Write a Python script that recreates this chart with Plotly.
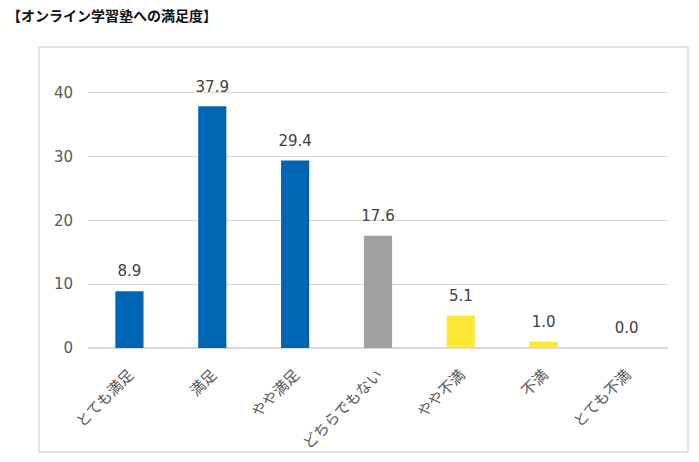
import plotly.graph_objects as go

categories = ["とても満足", "満足", "やや満足", "どちらでもない", "やや不満", "不満", "とても不満"]
values = [8.9, 37.9, 29.4, 17.6, 5.1, 1.0, 0.0]
colors = ["#0066B3", "#0066B3", "#0066B3", "#A0A0A0", "#FFE835", "#FFE835", "#FFE835"]
y_ticks = [0, 10, 20, 30, 40]
title_text = "【オンライン学習塾への満足度】"

FONT = "DejaVu Sans, Noto Sans CJK JP, sans-serif"

fig = go.Figure()
fig.add_trace(go.Bar(
    x=categories, y=values, marker=dict(color=colors, line=dict(width=0)),
    hoverinfo="skip", showlegend=False,
))
fig.add_trace(go.Scatter(
    x=categories, y=values, mode="markers+text",
    text=[f"{v:.1f}" for v in values], textposition="top center",
    textfont=dict(family=FONT, size=15, color="#404040"),
    marker=dict(size=16, opacity=0), hoverinfo="skip", showlegend=False,
    cliponaxis=False,
))

fig.update_layout(
    width=699, height=462,
    margin=dict(l=88, r=31, t=61, b=114),
    paper_bgcolor="white", plot_bgcolor="white",
    bargap=0.66,
    annotations=[dict(
        text="<b>" + title_text + "</b>", xref="paper", yref="paper",
        x=-0.143, y=1.160, xanchor="left", yanchor="middle", showarrow=False,
        font=dict(family="Noto Sans CJK JP", size=14, color="#111111"),
    )],
    shapes=[dict(
        type="rect", xref="paper", yref="paper",
        x0=-0.0845, x1=1.0345, y0=-0.362, y1=1.0488,
        line=dict(color="#D9D9D9", width=1.5), fillcolor="rgba(0,0,0,0)",
    )],
)
fig.update_xaxes(
    tickangle=-45, showgrid=False, showline=False, zeroline=False,
    tickfont=dict(family="Noto Sans CJK JP", size=15, color="#595959"),
    ticks="", automargin=False, ticklabelstandoff=14,
)
fig.update_yaxes(
    range=[0, 45], tickvals=y_ticks, showgrid=True, gridcolor="#D9D9D9", gridwidth=1,
    zeroline=True, zerolinecolor="#D9D9D9", zerolinewidth=1.5, showline=False,
    tickfont=dict(family=FONT, size=15, color="#595959"),
    ticks="", ticklabelstandoff=14, automargin=False,
)
fig.write_html("out.html")
